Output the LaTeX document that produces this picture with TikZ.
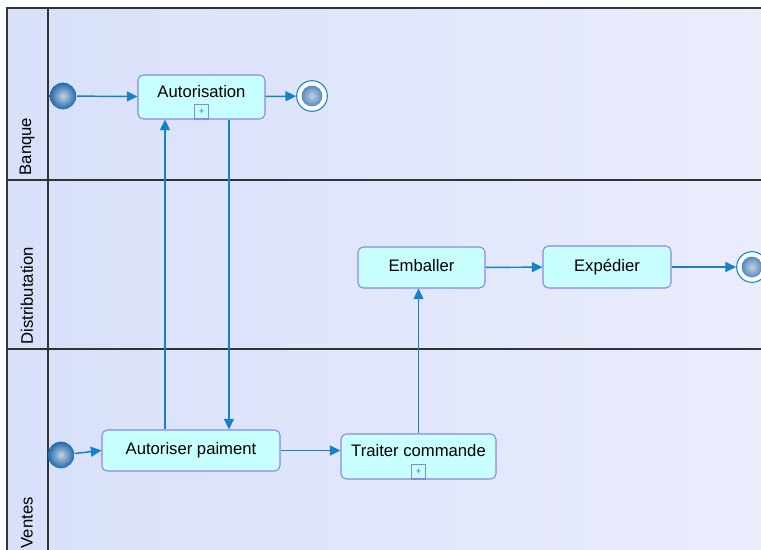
\documentclass[tikz,border=0pt]{standalone}
\usepackage{fontspec}
\setmainfont{Liberation Sans}
\usepackage{tikz}
\usetikzlibrary{positioning, arrows.meta, calc}
\definecolor{flowblue}{RGB}{20,130,200}
\definecolor{taskfill}{RGB}{200,255,255}
\definecolor{taskdraw}{RGB}{135,135,235}
\definecolor{lanel}{RGB}{216,224,250}
\definecolor{laner}{RGB}{234,237,252}
\definecolor{ballin}{RGB}{200,208,222}
\definecolor{ballout}{RGB}{30,105,175}
\tikzset{
  task/.style={draw=taskdraw, fill=taskfill, rounded corners=4pt,
               line width=0.8pt, font=\fontsize{12.5}{14}\selectfont,
               minimum height=30.75pt, text height=9pt, text depth=2.4pt,
               inner sep=2pt},
  subtask/.style={task, text depth=8.4pt},
  marker/.style={draw=taskdraw, fill=taskfill, line width=0.8pt,
                 minimum size=11pt, inner sep=0pt, font=\scriptsize, text=flowblue},
  flow/.style={flowblue, line width=1.1pt,
               -{Triangle[length=8pt,width=7.5pt]}}
}

\begin{document}
\begin{tikzpicture}[
    x=0.75pt, y=-0.75pt,
    startev/.style={circle, minimum size=20pt, inner sep=0pt,
                    inner color=ballin, outer color=ballout},
    endev/.style={circle, draw=flowblue, line width=0.8pt, fill=white,
                  minimum size=23pt, inner sep=0pt,
                  path picture={\shade[inner color=ballin, outer color=ballout]
                    (path picture bounding box.center) circle (7.8pt);}},
    lanelabel/.style={rotate=90, anchor=west, font=\fontsize{12.5}{14}\selectfont},
    laneline/.style={draw=black!80, line width=1pt}
]
\useasboundingbox (0,0) rectangle (761,550);
\clip (0,0) rectangle (761,550);
% pool and lanes
\shade[left color=lanel, right color=laner] (7,8) rectangle (775,560);
\draw[laneline] (7,560) |- (775,8);
\draw[laneline] (48,8) -- (48,560);
\foreach \yy in {180,349}
    \draw[laneline] (7,\yy) -- (775,\yy);
\node[lanelabel] (lbank) at (27,180) {Banque};
\node[lanelabel] (ldist) at (27,349) {Distributation};
\node[lanelabel] (lsale) at (27,553) {Ventes};
% Banque
\node[startev] (s1) at (63,96) {};
\node[subtask, minimum width=95.25pt, minimum height=33pt] (auth) at (201.5,97) {Autorisation};
\node[marker, anchor=south] (authm) at (auth.south) {+};
\node[endev] (e1) at (312,96) {};
% Distribution
\node[task, minimum width=95.25pt] (emb) at (421.5,267.5) {Emballer};
\node[task, minimum width=96pt, minimum height=31.5pt] (exp) at (607,267) {Expédier};
\node[endev] (e2) at (752,267) {};
% Ventes
\node[startev] (s2) at (61,455) {};
\node[task, minimum width=133.5pt] (ap) at (191,450.5) {Autoriser paiment};
\node[subtask, minimum width=116.25pt, minimum height=33.75pt] (tc) at (418.5,456.5) {Traiter commande};
\node[marker, anchor=south] (tcm) at (tc.south) {+};
% flows
\coordinate (upA) at ([xshift=-19.5pt]ap.north);
\coordinate (dnA) at ([xshift=20.6pt]auth.south);
\draw[flow] (s1) -- (auth);
\draw[flow] (auth) -- (e1);
\draw[flow] (upA) -- (upA |- auth.south);
\draw[flow] (dnA) -- (dnA |- ap.north);
\draw[flow] (s2) -- (ap.west);
\draw[flow] (ap.east) -- (ap.east -| tc.west);
\draw[flow] (tc.north) -- (tc.north |- emb.south);
\draw[flow] (emb) -- (exp);
\draw[flow] (exp) -- (e2);
\end{tikzpicture}
\end{document}
